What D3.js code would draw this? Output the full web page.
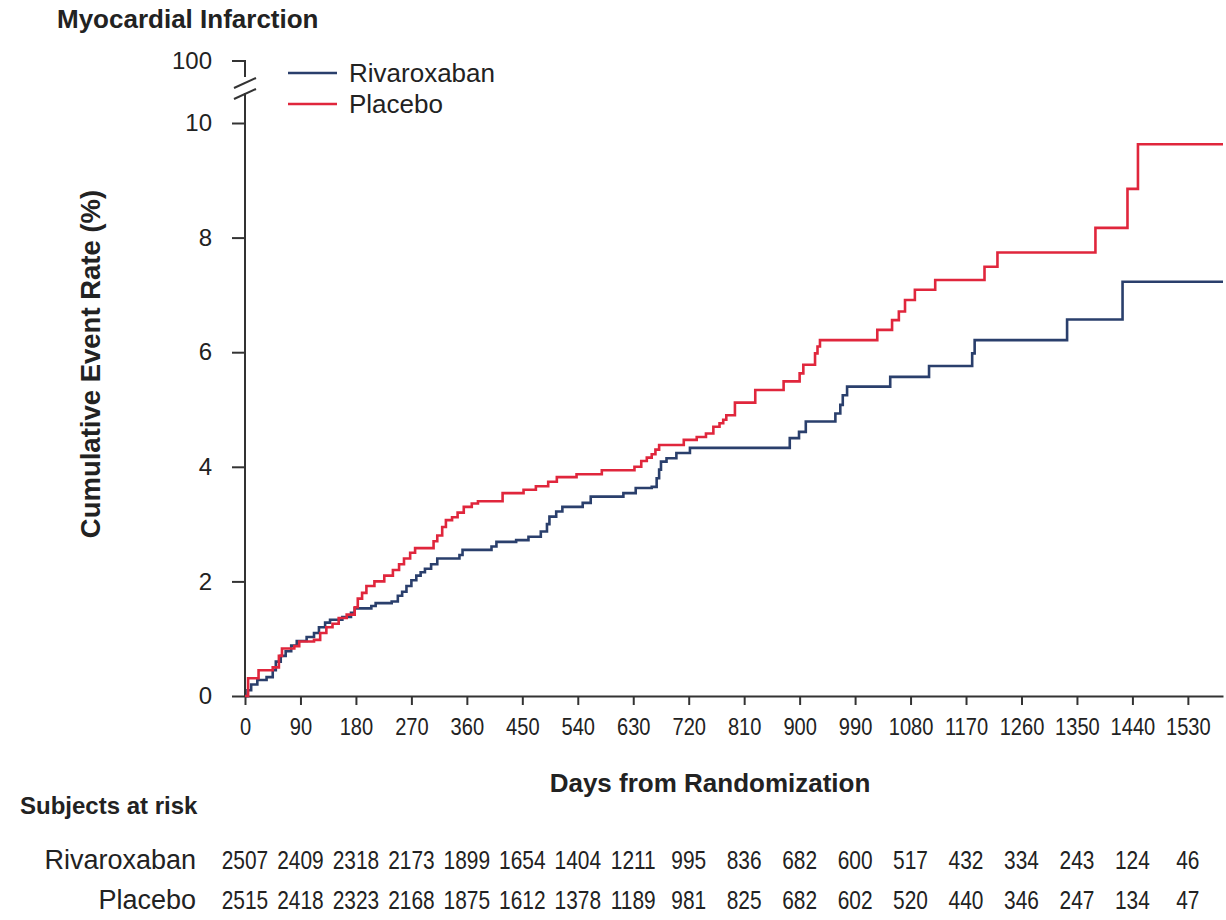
<!DOCTYPE html>
<html>
<head>
<meta charset="utf-8">
<script src="https://cdn.jsdelivr.net/npm/d3@7"></script>
<style>
  body { margin: 0; background: #fff; }
  svg text { font-family: "Liberation Sans", Arial, sans-serif; fill: #222; }
</style>
</head>
<body>
<div class="js-chart"></div>
<script>
// Cumulative event rate (%): [day, level after step]
var placebo = [
  [0,0],[5,0.31],[22,0.45],[45,0.5],[55,0.7],[60,0.83],[80,0.87],[88,0.95],[112,0.98],
  [122,1.1],[132,1.2],[142,1.26],[152,1.36],[165,1.42],[178,1.55],[183,1.7],[190,1.8],
  [197,1.92],[210,2.0],[226,2.1],[240,2.2],[250,2.3],[258,2.4],[268,2.5],[276,2.58],
  [306,2.7],[312,2.8],[320,2.95],[326,3.07],[336,3.12],[345,3.2],[355,3.3],[368,3.36],
  [378,3.4],[418,3.54],[452,3.6],[472,3.66],[492,3.74],[506,3.82],[538,3.87],[579,3.94],
  [632,4.0],[643,4.1],[652,4.16],[660,4.22],[666,4.3],[672,4.38],[712,4.47],[733,4.52],
  [748,4.58],[760,4.7],[770,4.76],[776,4.82],[781,4.9],[795,5.12],[828,5.34],[874,5.49],
  [900,5.63],[906,5.78],[925,5.98],[929,6.1],[933,6.21],[1026,6.39],[1050,6.56],
  [1061,6.71],[1071,6.91],[1087,7.09],[1120,7.26],[1200,7.49],[1221,7.74],[1380,8.17],
  [1432,8.85],[1449,9.63],[1587,9.63]
];

var rivaroxaban = [
  [0,0],[4,0.1],[10,0.2],[20,0.28],[35,0.33],[45,0.45],[50,0.6],[58,0.7],[66,0.78],
  [75,0.88],[84,0.96],[100,1.03],[112,1.1],[120,1.2],[130,1.28],[138,1.33],[158,1.38],
  [172,1.45],[178,1.53],[205,1.57],[212,1.62],[238,1.65],[248,1.75],[255,1.82],[262,1.92],
  [270,2.02],[278,2.1],[285,2.16],[292,2.22],[302,2.3],[312,2.4],[348,2.46],[353,2.55],
  [400,2.61],[408,2.69],[440,2.72],[460,2.78],[480,2.87],[490,3.0],[494,3.13],[505,3.22],
  [515,3.3],[548,3.37],[561,3.48],[614,3.54],[634,3.63],[660,3.65],[668,3.8],[672,3.95],
  [675,4.09],[684,4.15],[700,4.24],[722,4.33],[884,4.5],[899,4.61],[910,4.79],[958,4.93],
  [966,5.08],[970,5.25],[977,5.4],[1047,5.57],[1110,5.76],[1180,5.98],[1184,6.21],
  [1334,6.57],[1424,7.23],[1587,7.23]
];

var seriesNames = ['Rivaroxaban', 'Placebo'];
var xTicks = d3.range(0, 1531, 90);
var yTicks = [0, 2, 4, 6, 8, 10];

var riskDays = d3.range(0, 1531, 90);
var riskRivaroxaban = [2507,2409,2318,2173,1899,1654,1404,1211,995,836,682,600,517,432,334,243,124,46];
var riskPlacebo = [2515,2418,2323,2168,1875,1612,1378,1189,981,825,682,602,520,440,346,247,134,47];

var blue = '#2a3f6c',
  red = '#e0263c',
  axisColor = '#333';

// narrow face for the digit rows, if installed
function fontExists(name) {
  var ctx = document.createElement('canvas').getContext('2d');
  ctx.font = '24px monospace';
  var a = ctx.measureText('1234567890 abc').width;
  ctx.font = '24px "' + name + '", monospace';
  var b = ctx.measureText('1234567890 abc').width;
  return a !== b;
}
var hasNarrow = fontExists('Liberation Sans Narrow');

function narrow(sel, size) {
  if (hasNarrow) {
    sel.style('font-family', '"Liberation Sans Narrow"').style('font-size', size + 'px');
  } else {
    sel.style('font-size', size + 'px')
      .attr('transform', function() {
        var t = d3.select(this), cx = +t.attr('x') || 0;
        return 'translate(' + cx + ',0) scale(0.82,1) translate(' + (-cx) + ',0)';
      });
  }
}

var svg = d3.select('.js-chart')
  .append('svg')
  .attr('width', 1226)
  .attr('height', 920);

var x = d3.scaleLinear().domain([0, 1587]).range([245, 1223]);
var y = d3.scaleLinear().domain([0, 10]).range([696, 123]);

// title
svg.append('text')
  .attr('x', 57).attr('y', 28)
  .style('font-size', '26px').style('font-weight', 'bold')
  .text('Myocardial Infarction');

// x axis
var xAxis = svg.append('g')
  .attr('transform', 'translate(0,' + y(0) + ')')
  .call(d3.axisBottom(x).tickValues(xTicks).tickFormat(d3.format('d'))
    .tickSize(9).tickSizeOuter(0).tickPadding(13));
xAxis.select('.domain').attr('stroke', axisColor).attr('stroke-width', 2);
xAxis.selectAll('.tick line').attr('stroke', axisColor).attr('stroke-width', 2);
xAxis.selectAll('.tick text').attr('fill', '#222').style('font-family', null);
xAxis.selectAll('.tick text').each(function() {
  var t = d3.select(this);
  if (hasNarrow) {
    t.style('font-family', '"Liberation Sans Narrow"').style('font-size', '24.5px');
  } else {
    t.style('font-size', '24.5px').attr('transform', 'scale(0.82,1)');
  }
});

// y axis
var yAxis = svg.append('g')
  .attr('transform', 'translate(' + x(0) + ',0)')
  .call(d3.axisLeft(y).tickValues(yTicks).tickSize(13).tickSizeOuter(0).tickPadding(20));
yAxis.select('.domain').remove();
yAxis.selectAll('.tick line').attr('stroke', axisColor).attr('stroke-width', 2);
yAxis.selectAll('.tick text').attr('fill', '#222').style('font-family', null).style('font-size', '24px');

// y axis line with break up to 100
var top100 = y(10) - 62;
var ax = x(0);
svg.append('line')
  .attr('x1', ax).attr('x2', ax).attr('y1', y(0) + 1).attr('y2', top100 + 32)
  .attr('stroke', axisColor).attr('stroke-width', 2);
svg.append('path')
  .attr('d', 'M' + (ax - 13) + ',' + top100 + 'H' + ax + 'V' + (top100 + 16))
  .attr('fill', 'none').attr('stroke', axisColor).attr('stroke-width', 2);
[0, 11].forEach(function(off) {
  svg.append('line')
    .attr('x1', ax - 11).attr('y1', top100 + 27 + off)
    .attr('x2', ax + 11).attr('y2', top100 + 17 + off)
    .attr('stroke', axisColor).attr('stroke-width', 2);
});
svg.append('text')
  .attr('x', ax - 33).attr('y', top100)
  .attr('dy', '0.32em')
  .attr('text-anchor', 'end')
  .style('font-size', '24px')
  .text('100');

// axis titles
svg.append('text')
  .attr('transform', 'translate(100,364) rotate(-90)')
  .attr('text-anchor', 'middle')
  .style('font-size', '27.5px').style('font-weight', 'bold')
  .text('Cumulative Event Rate (%)');

svg.append('text')
  .attr('x', 710).attr('y', 792)
  .attr('text-anchor', 'middle')
  .style('font-size', '26px').style('font-weight', 'bold')
  .text('Days from Randomization');

// curves
var line = d3.line()
  .x(function(d) { return x(d[0]); })
  .y(function(d) { return y(d[1]); })
  .curve(d3.curveStepAfter);

svg.append('path')
  .datum(rivaroxaban)
  .attr('d', line)
  .attr('fill', 'none').attr('stroke', blue).attr('stroke-width', 2.6);

svg.append('path')
  .datum(placebo)
  .attr('d', line)
  .attr('fill', 'none').attr('stroke', red).attr('stroke-width', 2.6);

// legend
var legend = svg.selectAll('.legend')
  .data(seriesNames)
  .enter()
  .append('g')
  .classed('legend', true)
  .attr('transform', function(d, i) { return 'translate(288,' + (73 + i * 31) + ')'; });

legend.append('line')
  .attr('x1', 0).attr('x2', 49)
  .attr('stroke', function(d, i) { return i === 0 ? blue : red; })
  .attr('stroke-width', 2.6);

legend.append('text')
  .attr('x', 61).attr('dy', '0.35em')
  .style('font-size', '26px')
  .text(function(d) { return d; });

// subjects at risk
svg.append('text')
  .attr('x', 20).attr('y', 814)
  .style('font-size', '24px').style('font-weight', 'bold')
  .text('Subjects at risk');

var rows = [riskRivaroxaban, riskPlacebo];
rows.forEach(function(row, r) {
  var by = 869 + r * 40;
  svg.append('text')
    .attr('x', 196).attr('y', by)
    .attr('text-anchor', 'end')
    .style('font-size', '27px')
    .text(seriesNames[r]);

  svg.selectAll('.risk' + r)
    .data(row)
    .enter()
    .append('text')
    .classed('risk' + r, true)
    .attr('x', function(d, i) { return x(riskDays[i]); })
    .attr('y', by)
    .attr('text-anchor', 'middle')
    .text(function(d) { return d; })
    .call(narrow, 25.5);
});
</script>
</body>
</html>
